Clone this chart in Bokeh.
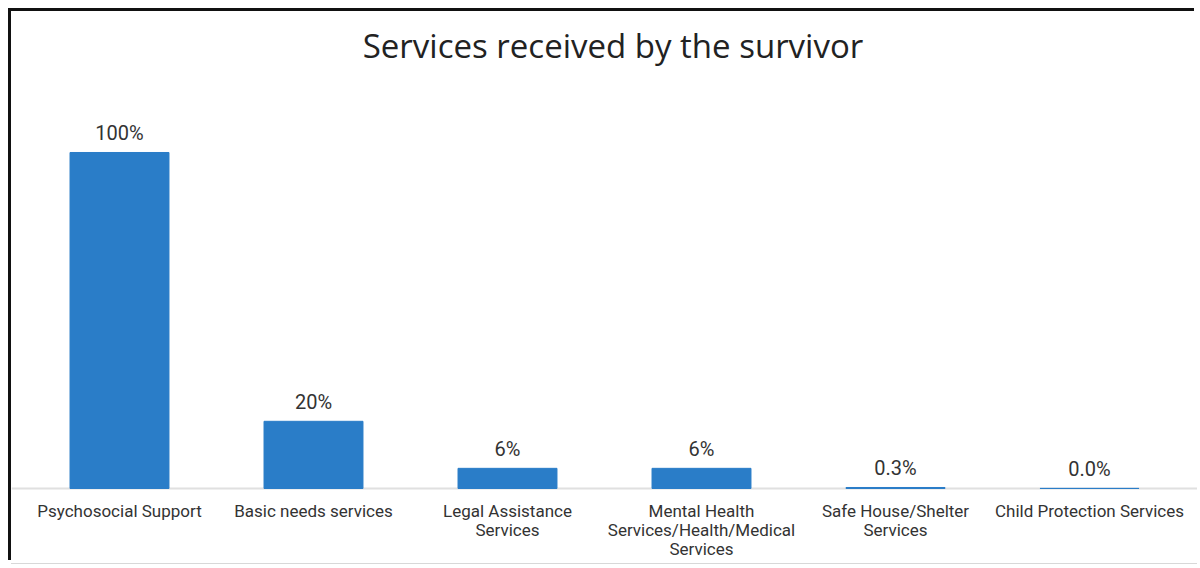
from bokeh.plotting import figure
from bokeh.models import ColumnDataSource, Range1d, FactorRange, Span, Label
from bokeh.core.properties import value
from bokeh.embed import file_html
from bokeh.resources import INLINE

categories = ["Psychosocial Support", "Basic needs services", "Legal Assistance Services",
              "Mental Health Services/Health/Medical Services", "Safe House/Shelter Services",
              "Child Protection Services"]
tick_labels = ["Psychosocial Support", "Basic needs services", "Legal Assistance\nServices",
               "Mental Health\nServices/Health/Medical\nServices", "Safe House/Shelter\nServices",
               "Child Protection Services"]
values = [100, 20, 6, 6, 0.3, 0.04]
value_labels = ["100%", "20%", "6%", "6%", "0.3%", "0.0%"]
title_text = "Services received by the survivor"

src = ColumnDataSource(dict(cat=categories, val=values, lab=value_labels,
                            tick=tick_labels, zero=[0] * len(categories)))

W, H = 1186, 552
Y0, Y1 = -22.32, 141.96
p = figure(width=W, height=H,
           x_range=FactorRange(*categories, range_padding=0.0567,
                               range_padding_units="absolute"),
           y_range=Range1d(Y0, Y1), output_backend="svg", toolbar_location=None)
p.min_border_left = 0
p.min_border_right = 0
p.min_border_bottom = 0
p.min_border_top = 0
p.outline_line_color = None
p.background_fill_color = "white"
p.border_fill_color = "white"
p.styles = {"margin-left": "11px", "margin-top": "11px",
            "box-shadow": "-3px -3px 0 0 #111111, 0 1px 0 0 #d8d8d8"}

title = Label(x=601.5, y=Y1 - 34 / 3.36, x_units="screen", y_units="data",
              text=title_text, text_align="center", text_baseline="middle",
              text_font="Open Sans", text_font_size="33px", text_color="#222222")
p.add_layout(title)

baseline = Span(location=0, dimension="width", line_color="#e0e0e0", line_width=2,
                level="underlay")
p.add_layout(baseline)

p.vbar(x="cat", top="val", width=0.51, source=src, fill_color="#2a7dc8",
       line_color="#2a7dc8", line_width=1)
p.text(x="cat", y="val", text="lab", source=src, text_align="center",
       text_baseline="bottom", y_offset=-7, text_font=value("Roboto"),
       text_font_size="20px", text_color="#333333")
p.text(x="cat", y="zero", text="tick", source=src, text_align="center",
       text_baseline="top", y_offset=12, text_font=value("Roboto"),
       text_font_size="17px", text_color="#333333", text_line_height=0.95)

p.xgrid.visible = False
p.ygrid.visible = False
p.xaxis.visible = False
p.yaxis.visible = False

open("out.html", "w").write(file_html(p, INLINE))
